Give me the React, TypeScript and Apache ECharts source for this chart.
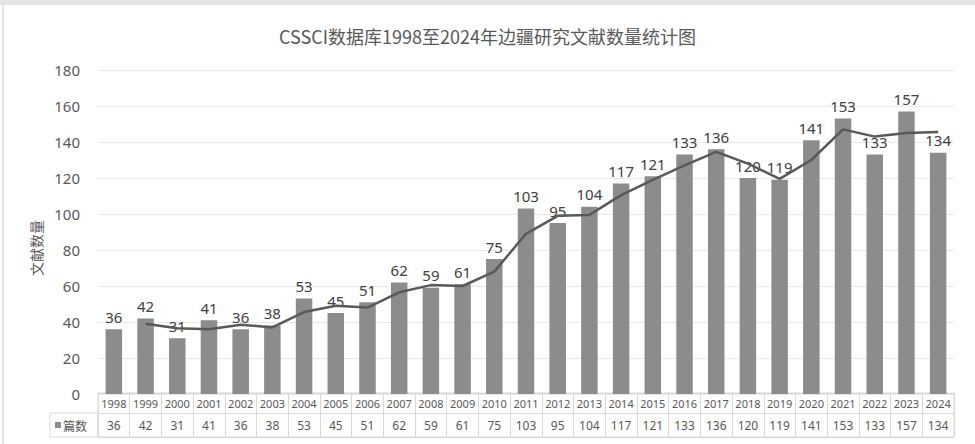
import React, { useEffect, useRef } from "react";
import * as echarts from "echarts";

const years = ["1998","1999","2000","2001","2002","2003","2004","2005","2006","2007","2008","2009","2010","2011","2012","2013","2014","2015","2016","2017","2018","2019","2020","2021","2022","2023","2024"];
const counts = [36,42,31,41,36,38,53,45,51,62,59,61,75,103,95,104,117,121,133,136,120,119,141,153,133,157,134];
const trendValues = [null,39,36.5,36,38.5,37,45.5,49,48,56.5,60.5,60,68,89,99,99.5,110.5,119,127,134.5,128,119.5,130,147,143,145,145.5];
const yTicks = { min: 0, max: 180, interval: 20 };
const title = "CSSCI数据库1998至2024年边疆研究文献数量统计图";
const yName = "文献数量";
const seriesName = "篇数";

const FONT = "'Noto Sans', 'Noto Sans CJK SC', sans-serif";

export default function App() {
  const ref = useRef<HTMLDivElement>(null);
  useEffect(() => {
    const chart = echarts.init(ref.current!, null, { renderer: "svg" });
    const GL = 98, GR = 21;
    chart.setOption({
      animation: false,
      backgroundColor: "#ffffff",
      title: {
        text: title,
        left: "center",
        top: 22,
        textStyle: { fontSize: 18, fontWeight: "normal", color: "#595959", fontFamily: "'Noto Sans CJK SC', sans-serif" },
      },
      graphic: [
        { type: "rect", shape: { x: 0, y: 0, width: 975, height: 5 }, style: { fill: "#e4e4e4" }, silent: true },
        { type: "rect", shape: { x: 2, y: 5, width: 2, height: 439 }, style: { fill: "#e4e4e4" }, silent: true },
        { type: "rect", shape: { x: 50, y: 413, width: GL - 50, height: 24 }, style: { fill: "none", stroke: "#d9d9d9", lineWidth: 1 }, silent: true },
        { type: "rect", shape: { x: 55, y: 422, width: 6, height: 6 }, style: { fill: "#8c8c8c" }, silent: true },
        { type: "text", x: 63, y: 425, style: { text: seriesName, fontSize: 12, fill: "#595959", verticalAlign: "middle", align: "left", fontFamily: "'Noto Sans CJK SC', sans-serif" }, silent: true },
      ],
      grid: [
        { left: GL, right: GR, top: 70, height: 324 },
        { left: GL, right: GR, top: 393, height: 44, show: true, borderColor: "#d9d9d9", borderWidth: 1, backgroundColor: "transparent" },
      ],
      xAxis: [
        { type: "category", gridIndex: 0, data: years, axisLabel: { show: false }, axisTick: { show: false }, axisLine: { show: false } },
        { type: "category", gridIndex: 1, data: years, boundaryGap: true, axisLabel: { show: false }, axisTick: { show: false, interval: 0 }, axisLine: { show: false }, splitLine: { show: true, interval: 0, lineStyle: { color: "#d9d9d9", width: 1 } } },
      ],
      yAxis: [
        {
          type: "value", gridIndex: 0, min: yTicks.min, max: yTicks.max, interval: yTicks.interval,
          axisLabel: { fontSize: 15, color: "#595959", margin: 18, fontFamily: FONT },
          axisLine: { show: false }, axisTick: { show: false },
          splitLine: { lineStyle: { color: "#e8e8e8", width: 1 } },
          name: yName, nameLocation: "middle", nameRotate: 90, nameGap: 54,
          nameTextStyle: { fontSize: 14, color: "#595959", fontFamily: "'Noto Sans CJK SC', sans-serif", padding: [0, 0, 0, -32] },
        },
        { type: "value", gridIndex: 1, min: 0, max: 44, interval: 24, axisLabel: { show: false }, axisTick: { show: false }, axisLine: { show: false }, splitLine: { show: true, lineStyle: { color: "#d9d9d9", width: 1 } } },
      ],
      series: [
        {
          name: seriesName, type: "bar", xAxisIndex: 0, yAxisIndex: 0, data: counts, barWidth: "52%",
          itemStyle: { color: "#8c8c8c" },
          label: { show: true, position: "top", distance: 5, fontSize: 15, color: "#404040", fontFamily: FONT },
        },
        {
          name: "趋势", type: "line", xAxisIndex: 0, yAxisIndex: 0, data: trendValues, symbol: "none",
          lineStyle: { color: "#595959", width: 2.5 }, z: 3,
        },
        {
          type: "custom", xAxisIndex: 1, yAxisIndex: 1, z: 5,
          data: years.map((y, i) => [i, counts[i]]),
          renderItem: (params: any, api: any) => {
            const i = api.value(0);
            const p1 = api.coord([i, 34]);
            const p2 = api.coord([i, 12]);
            return {
              type: "group",
              children: [
                { type: "text", x: p1[0], y: p1[1], style: { text: years[i], align: "center", verticalAlign: "middle", fontSize: 11, fill: "#595959", fontFamily: FONT } },
                { type: "text", x: p2[0], y: p2[1], style: { text: String(api.value(1)), align: "center", verticalAlign: "middle", fontSize: 12, fill: "#595959", fontFamily: FONT } },
              ],
            };
          },
        },
      ],
    });
    return () => chart.dispose();
  }, []);
  return <div ref={ref} style={{ position: "absolute", left: 0, top: 0, width: 975, height: 444 }} />;
}
